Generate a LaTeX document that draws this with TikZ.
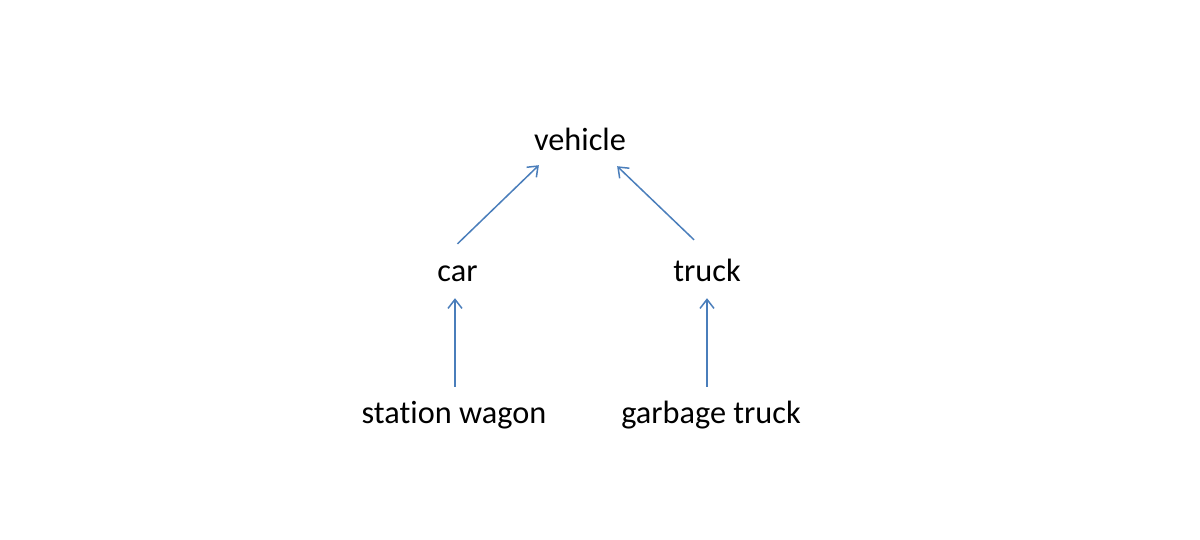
\documentclass[tikz,border=0pt]{standalone}
\usepackage{fontspec}
\setmainfont{Carlito}[Ligatures=NoCommon]
\usetikzlibrary{arrows.meta}
\definecolor{arrblue}{HTML}{4A7EBB}
\tikzset{
  lbl/.style={anchor=base, inner sep=0pt, text height=21pt, text depth=7pt, font=\fontsize{32.3}{38}\selectfont},
  arr/.style={draw=arrblue, line width=1.5pt, -{Straight Barb[length=9pt,width=14pt,line width=1.5pt]}}
}
\begin{document}
\begin{tikzpicture}[x=1pt,y=-1pt]
\useasboundingbox[fill=white] (0,0) rectangle (1200,540);
\node[lbl] (vehicle) at (580,151) {vehicle};
\node[lbl] (car) at (457.5,282) {car};
\node[lbl] (truck) at (707,282) {truck};
\node[lbl] (sw) at (454,423) {station wagon};
\node[lbl] (gt) at (711,423) {garbage truck};
\draw[arr] ([yshift=17pt]car.north) -- ([xshift=5pt,yshift=-7pt]vehicle.south west);
\draw[arr] ([xshift=-13pt,yshift=21pt]truck.north) -- ([xshift=-9pt,yshift=-8pt]vehicle.south east);
\draw[arr] ([xshift=1pt,yshift=15pt]sw.north) -- ([xshift=1pt,yshift=-9pt]sw.north |- car.south);
\draw[arr] ([xshift=-4pt,yshift=15pt]gt.north) -- ([xshift=-4pt,yshift=-9pt]gt.north |- truck.south);
\end{tikzpicture}
\end{document}
